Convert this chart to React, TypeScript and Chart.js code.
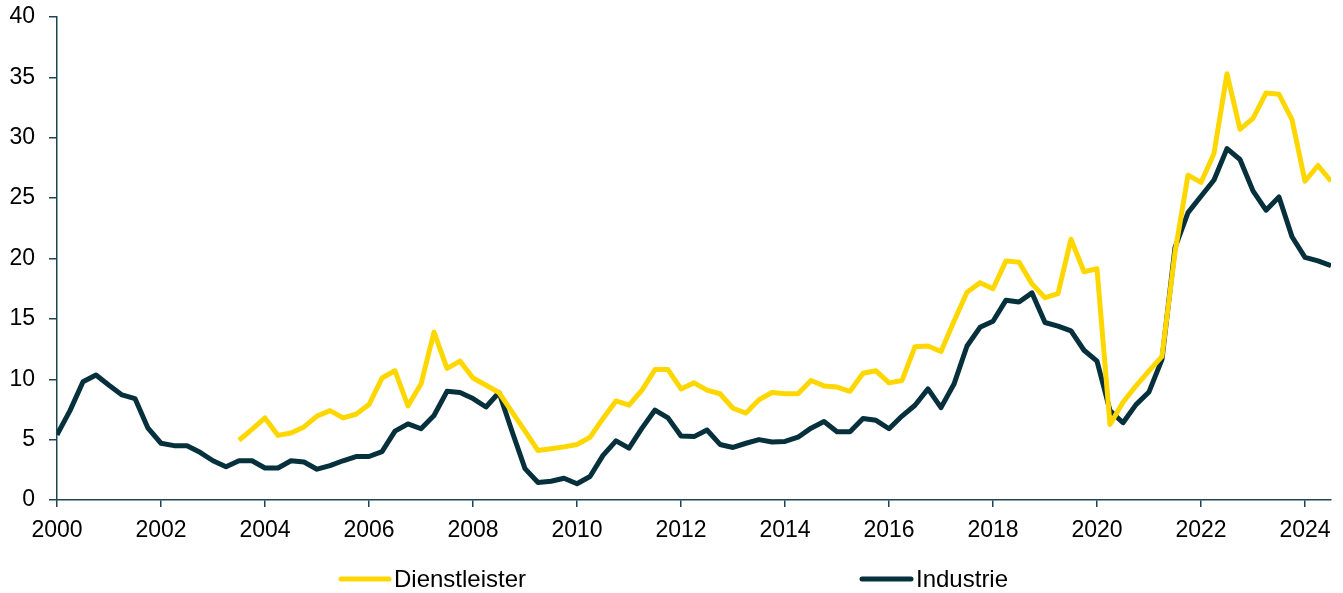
import React, { useEffect, useRef } from "react";
import { Chart, registerables } from "chart.js";

Chart.register(...registerables);

const START_YEAR = 2000;
const X_MAX = 2024.5;
const Y_TICKS = [0, 5, 10, 15, 20, 25, 30, 35, 40];

// Quarterly values, 2000 Q1 .. 2024 Q3
const industrie: number[] = [
  5.4, 7.4, 9.8, 10.35,
  9.5, 8.7, 8.4, 5.95,
  4.7, 4.5, 4.5, 3.95,
  3.25, 2.75, 3.25, 3.25,
  2.65, 2.65, 3.25, 3.15,
  2.55, 2.85, 3.25, 3.6,
  3.6, 4.0, 5.7, 6.3,
  5.9, 7.0, 9.0, 8.9,
  8.4, 7.7, 8.9, 5.7,
  2.6, 1.45, 1.55, 1.8,
  1.35, 1.95, 3.7, 4.9,
  4.3, 5.95, 7.45, 6.8,
  5.3, 5.25, 5.8, 4.6,
  4.35, 4.7, 5.0, 4.8,
  4.85, 5.2, 5.95, 6.5,
  5.65, 5.65, 6.75, 6.6,
  5.9, 6.95, 7.85, 9.2,
  7.65, 9.6, 12.75, 14.3,
  14.8, 16.55, 16.4, 17.15,
  14.7, 14.4, 14.0, 12.4,
  11.5, 7.4, 6.4, 7.9,
  8.95, 11.65, 20.9, 23.8,
  25.15, 26.5, 29.1, 28.2,
  25.6, 24.0, 25.1, 21.8,
  20.1, 19.8, 19.4,
];

const dienstleister: (number | null)[] = [
  null, null, null, null,
  null, null, null, null,
  null, null, null, null,
  null, null, 4.95, 5.85,
  6.8, 5.35, 5.55, 6.05,
  6.95, 7.4, 6.8, 7.1,
  7.9, 10.1, 10.7, 7.8,
  9.6, 13.9, 10.9, 11.5,
  10.1, 9.5, 8.9, 7.3,
  5.7, 4.1, 4.25, 4.4,
  4.6, 5.2, 6.75, 8.2,
  7.85, 9.1, 10.8, 10.8,
  9.2, 9.7, 9.1, 8.8,
  7.6, 7.2, 8.3, 8.9,
  8.8, 8.8, 9.9, 9.45,
  9.35, 9.0, 10.5, 10.7,
  9.7, 9.9, 12.7, 12.75,
  12.3, 14.8, 17.2, 18.0,
  17.5, 19.8, 19.7, 17.9,
  16.75, 17.1, 21.6, 18.9,
  19.15, 6.25, 8.1, 9.45,
  10.7, 11.9, 20.5, 26.9,
  26.3, 28.7, 35.3, 30.7,
  31.6, 33.7, 33.6, 31.5,
  26.4, 27.7, 26.4,
];

const SERIES_NAMES = ["Dienstleister", "Industrie"];
const COLORS = ["#FFD700", "#06303C"];
const AXIS_COLOR = "#1E4451";
const FONT = "'Liberation Sans', Arial, sans-serif";
const TICK_FONT_SIZE = 23;
const LEGEND_FONT_SIZE = 24;

const toPoints = (vals: (number | null)[]) =>
  vals.map((v, i) => ({ x: START_YEAR + i / 4, y: v }));

const legendPlugin = {
  id: "customLegend",
  afterDraw(chart: any) {
    const ctx = chart.ctx;
    const items = [
      { lineFrom: 341, lineTo: 389, textX: 394, label: SERIES_NAMES[0], color: COLORS[0] },
      { lineFrom: 862, lineTo: 911, textX: 916, label: SERIES_NAMES[1], color: COLORS[1] },
    ];
    const y = 579;
    ctx.save();
    items.forEach((it) => {
      ctx.strokeStyle = it.color;
      ctx.lineWidth = 5;
      ctx.lineCap = "round";
      ctx.beginPath();
      ctx.moveTo(it.lineFrom, y);
      ctx.lineTo(it.lineTo, y);
      ctx.stroke();
      ctx.fillStyle = "#000";
      ctx.font = `${LEGEND_FONT_SIZE}px ${FONT}`;
      ctx.textAlign = "left";
      ctx.textBaseline = "middle";
      ctx.fillText(it.label, it.textX, y + 1);
    });
    ctx.restore();
  },
};

export default function App() {
  const ref = useRef<HTMLCanvasElement>(null);
  useEffect(() => {
    document.body.style.margin = "0";
    const chart = new Chart(ref.current!, {
      type: "line",
      data: {
        datasets: [
          {
            label: SERIES_NAMES[0],
            data: toPoints(dienstleister),
            borderColor: COLORS[0],
            backgroundColor: COLORS[0],
            borderWidth: 5,
            pointRadius: 0,
            tension: 0,
            spanGaps: false,
            borderJoinStyle: "round",
          },
          {
            label: SERIES_NAMES[1],
            data: toPoints(industrie),
            borderColor: COLORS[1],
            backgroundColor: COLORS[1],
            borderWidth: 5,
            pointRadius: 0,
            tension: 0,
            borderJoinStyle: "round",
          },
        ],
      },
      options: {
        animation: false,
        responsive: false,
        layout: { padding: { top: 17, right: 12, bottom: 47, left: 0 } },
        plugins: { legend: { display: false }, tooltip: { enabled: false } },
        scales: {
          x: {
            type: "linear",
            min: START_YEAR,
            max: X_MAX,
            border: { display: true, color: AXIS_COLOR, width: 1.5 },
            grid: { drawOnChartArea: false, drawTicks: true, tickLength: 7, color: AXIS_COLOR, lineWidth: 1.5 },
            ticks: {
              stepSize: 2,
              includeBounds: false,
              autoSkip: false,
              maxRotation: 0,
              padding: 10,
              color: "#000",
              font: { family: FONT, size: TICK_FONT_SIZE },
              callback: (v: any) => String(v),
            },
            afterFit: (s: any) => { s.height = 46; s.paddingLeft = 0; s.paddingRight = 0; },
          },
          y: {
            min: 0,
            max: 40,
            border: { display: true, color: AXIS_COLOR, width: 1.5 },
            grid: { drawOnChartArea: false, drawTicks: true, tickLength: 8, color: AXIS_COLOR, lineWidth: 1.5 },
            afterBuildTicks: (s: any) => { s.ticks = Y_TICKS.map((v) => ({ value: v })); },
            ticks: {
              padding: 14,
              color: "#000",
              font: { family: FONT, size: TICK_FONT_SIZE },
              callback: (v: any) => String(v),
            },
            afterFit: (s: any) => { s.width = 57; s.paddingTop = 0; s.paddingBottom = 0; },
          },
        },
      },
      plugins: [legendPlugin],
    });
    return () => chart.destroy();
  }, []);
  return <canvas ref={ref} width={1343} height={593} style={{ display: "block" }} />;
}
